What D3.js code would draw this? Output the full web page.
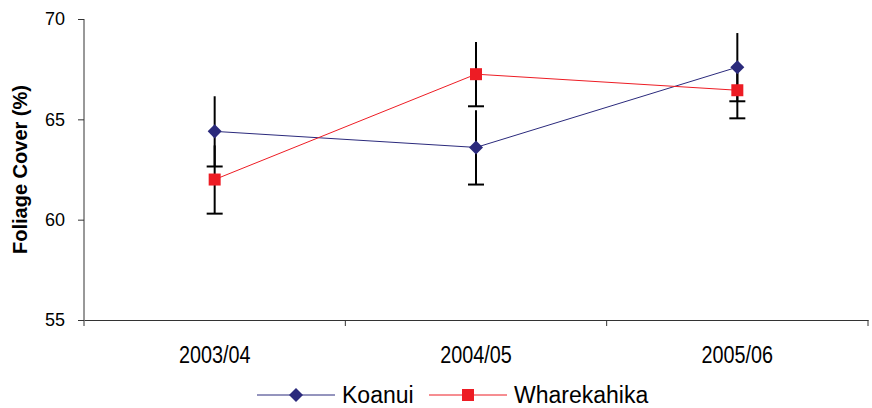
<!DOCTYPE html>
<html>
<head>
<meta charset="utf-8">
<script src="https://cdn.jsdelivr.net/npm/d3@7"></script>
<style>
    body { margin: 0; background: #fff; }
    text { font-family: "Liberation Sans", Arial, sans-serif; }
</style>
</head>
<body>
<div id="chart"></div>
<script>
// values
const years = ["2003/04", "2004/05", "2005/06"];
const koanui = [64.4, 63.6, 67.6];
const koanuiErr = [1.75, 1.85, 1.7];
const wharekahika = [62.0, 67.25, 66.45];
const wharekahikaErr = [1.7, 1.6, 1.4];
const yTicks = [55, 60, 65, 70];

const width = 872;
const height = 408;
const margin = { top: 19, right: 4, bottom: 88, left: 84 };

const svg = d3.select("#chart").append("svg").attr("width", width).attr("height", height);

const x = d3.scaleBand()
    .domain(years)
    .range([margin.left, width - margin.right]);

const y = d3.scaleLinear()
    .domain([55, 70])
    .range([height - margin.bottom, margin.top]);

// axes
const xAxis = svg.append("g")
    .attr("transform", `translate(0,${height - margin.bottom})`)
    .call(d3.axisBottom(x).tickSize(0).tickPadding(27));
xAxis.select(".domain").attr("stroke", "#333");
// the original labels are a little condensed
xAxis.selectAll("text")
    .attr("font-size", 23)
    .attr("transform", "scale(0.86,1)")
    .attr("fill", "#000");

// category boundary ticks
const bounds = years.map(d => x(d)).concat([x(years[years.length - 1]) + x.bandwidth()]);
svg.append("g").selectAll("line").data(bounds).join("line")
    .attr("x1", d => d).attr("x2", d => d)
    .attr("y1", height - margin.bottom).attr("y2", height - margin.bottom + 6)
    .attr("stroke", "#333");

const yAxis = svg.append("g")
    .attr("transform", `translate(${margin.left},0)`)
    .call(d3.axisLeft(y).tickValues(yTicks).tickSize(6).tickPadding(13));
yAxis.select(".domain").attr("stroke", "#333").attr("d", `M0,${y(55)}V${y(70)}`);
yAxis.selectAll(".tick line").attr("stroke", "#333");
yAxis.selectAll("text").attr("font-size", 18).attr("fill", "#000");

svg.append("text")
    .attr("transform", `translate(27,${(y(55) + y(70)) / 2}) rotate(-90)`)
    .attr("text-anchor", "middle")
    .attr("font-size", 20)
    .attr("font-weight", "bold")
    .attr("fill", "#000")
    .text("Foliage Cover (%)");

const cx = d => x(d) + x.bandwidth() / 2;

const series = [
    { name: "Koanui", values: koanui, errs: koanuiErr, color: "#2b2a7c", shape: d3.symbolDiamond2, size: 125 },
    { name: "Wharekahika", values: wharekahika, errs: wharekahikaErr, color: "#ed1c24", shape: d3.symbolSquare, size: 144 }
];

// error bars (cap at the lower end only)
series.forEach(s => {
    const g = svg.append("g");
    years.forEach((yr, i) => {
        const v = s.values[i], e = s.errs[i];
        g.append("line")
            .attr("x1", cx(yr)).attr("x2", cx(yr))
            .attr("y1", y(v + e)).attr("y2", y(v - e))
            .attr("stroke", "#000").attr("stroke-width", 2);
        g.append("line")
            .attr("x1", cx(yr) - 8).attr("x2", cx(yr) + 8)
            .attr("y1", y(v - e)).attr("y2", y(v - e))
            .attr("stroke", "#000").attr("stroke-width", 2);
    });
});

const line = d3.line().x((d, i) => cx(years[i])).y(d => y(d));

series.forEach(s => {
    svg.append("path")
        .datum(s.values)
        .attr("fill", "none")
        .attr("stroke", s.color)
        .attr("stroke-width", 1)
        .attr("d", line);
    svg.append("g").selectAll("path").data(s.values).join("path")
        .attr("transform", (d, i) => `translate(${cx(years[i])},${y(d)})`)
        .attr("d", d3.symbol().type(s.shape).size(s.size))
        .attr("fill", s.color);
});

// legend
const legendY = 395;
const legendX = [257, 429];
series.forEach((s, i) => {
    const g = svg.append("g").attr("transform", `translate(${legendX[i]},${legendY})`);
    g.append("line").attr("x1", 0).attr("x2", 78).attr("stroke", s.color).attr("stroke-width", 1);
    g.append("path")
        .attr("transform", "translate(39,0)")
        .attr("d", d3.symbol().type(s.shape).size(s.size))
        .attr("fill", s.color);
    g.append("text")
        .attr("x", 85).attr("y", 0).attr("dy", "0.35em")
        .attr("font-size", 23)
        .attr("fill", "#000")
        .text(s.name);
});
</script>
</body>
</html>
